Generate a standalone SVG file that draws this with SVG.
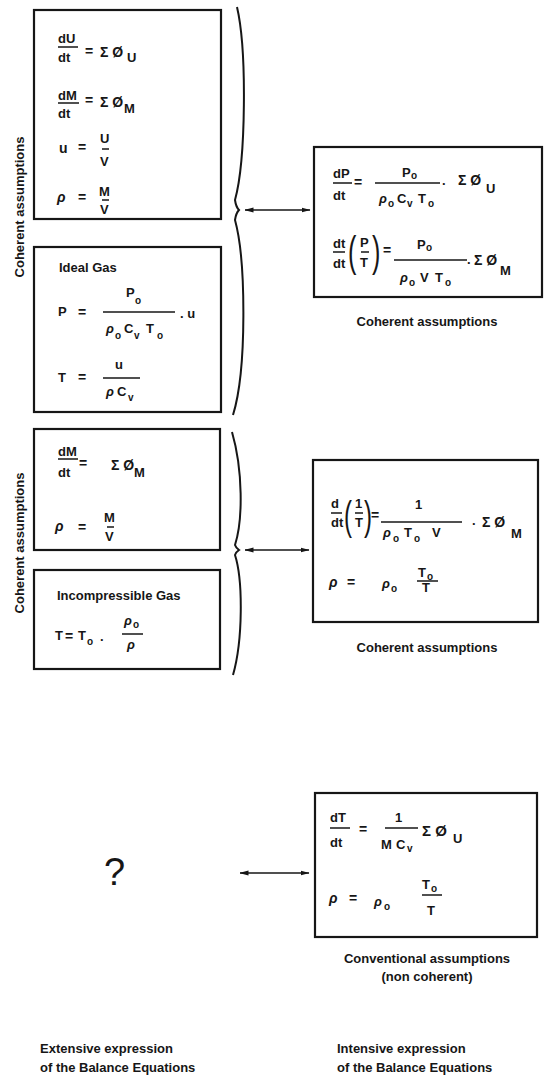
<svg xmlns="http://www.w3.org/2000/svg" width="545" height="1076" viewBox="0 0 545 1076">
<defs>
<style>
text{font-family:"Liberation Sans",Arial,Helvetica,sans-serif;font-weight:bold;fill:#161616}
.b{fill:#fff;stroke:#161616;stroke-width:2.2}
.m{font-size:13px}
.s{font-size:10px}
.g{font-size:14px}
.c{font-size:13px;text-anchor:middle}
.r{font-style:italic}
.pr{font-weight:normal}
.fb{stroke:#161616;stroke-width:1.5}
.con{fill:none;stroke:#161616;stroke-width:1.5}
.br{fill:none;stroke:#161616;stroke-width:2}
</style>
<marker id="ah" viewBox="0 0 9 6" refX="8.5" refY="3" markerWidth="9" markerHeight="6" markerUnits="userSpaceOnUse" orient="auto-start-reverse">
<path d="M0,0.5 L9,3 L0,5.5 z" fill="#161616"/>
</marker>
</defs>
<rect width="545" height="1076" fill="#fff"/>

<g id="label-left-1"><text class="m" transform="translate(24,207) rotate(-90)" text-anchor="middle">Coherent assumptions</text></g>
<g id="label-left-2"><text class="m" transform="translate(24,543) rotate(-90)" text-anchor="middle">Coherent assumptions</text></g>

<g id="box-balance">
<rect class="b" x="34" y="10" width="187" height="209"/>
<text class="m" x="58" y="43">dU</text><line class="fb" x1="58" y1="47" x2="78" y2="47"/><text class="m" x="58" y="62">dt</text>
<text class="g" x="85" y="56">=</text><text class="g" x="100" y="57">Σ Ø</text><text class="m" x="127" y="62">U</text>
<text class="m" x="58" y="100">dM</text><line class="fb" x1="58" y1="103" x2="79" y2="103"/><text class="m" x="58" y="118">dt</text>
<text class="g" x="85" y="105">=</text><text class="g" x="100" y="107">Σ Ø</text><text class="m" x="124" y="113">M</text>
<text class="g" x="59" y="153">u</text><text class="g" x="78" y="152">=</text>
<text class="m" x="100" y="143">U</text><line class="fb" x1="102" y1="149" x2="109" y2="149"/><text class="m" x="100" y="166">V</text>
<text class="g r" x="57" y="202">ρ</text><text class="g" x="78" y="202">=</text>
<text class="m" x="99" y="196">M</text><line class="fb" x1="102" y1="200" x2="109" y2="200"/><text class="m" x="100" y="214">V</text>
</g>

<g id="box-ideal-gas">
<rect class="b" x="34" y="247" width="187" height="165"/>
<text class="m" x="59" y="272">Ideal Gas</text>
<text class="m" x="58" y="316">P</text><text class="g" x="78" y="317">=</text>
<text class="m" x="126" y="297">P</text><text class="s" x="135" y="304">o</text>
<line class="fb" x1="103" y1="312" x2="175" y2="312"/>
<text class="m r" x="106" y="333">ρ</text><text class="s" x="115" y="339">o</text>
<text class="m" x="124" y="333">C</text><text class="s" x="134" y="339">v</text>
<text class="m" x="146" y="333">T</text><text class="s" x="157" y="339">o</text>
<text class="m" x="180" y="318">. u</text>
<text class="m" x="58" y="382">T</text><text class="g" x="78" y="382">=</text>
<text class="m" x="115" y="369">u</text><line class="fb" x1="103" y1="378" x2="140" y2="378"/>
<text class="m r" x="106" y="396">ρ</text><text class="m" x="117" y="396">C</text><text class="s" x="128" y="401">v</text>
</g>

<g id="box-mass">
<rect class="b" x="34" y="429" width="186" height="121"/>
<text class="m" x="58" y="456">dM</text><line class="fb" x1="58" y1="459" x2="78" y2="459"/><text class="m" x="58" y="477">dt</text>
<text class="g" x="79" y="468">=</text><text class="g" x="111" y="470">Σ Ø</text><text class="m" x="134" y="477">M</text>
<text class="g r" x="55" y="531">ρ</text><text class="g" x="78" y="532">=</text>
<text class="m" x="104" y="522">M</text><line class="fb" x1="107" y1="527" x2="114" y2="527"/><text class="m" x="105" y="541">V</text>
</g>

<g id="box-incompressible">
<rect class="b" x="34" y="570" width="186" height="99"/>
<text class="m" x="57" y="600">Incompressible Gas</text>
<text class="m" x="55" y="640">T</text><text class="g" x="65" y="641">=</text><text class="m" x="78" y="640">T</text><text class="s" x="87" y="645">o</text>
<text class="m" x="100" y="641">.</text>
<text class="m r" x="124" y="625">ρ</text><text class="s" x="133" y="628">o</text>
<line class="fb" x1="122" y1="634" x2="143" y2="634"/>
<text class="m r" x="127" y="649">ρ</text>
</g>

<g id="box-intensive-1">
<rect class="b" x="314" y="147" width="228" height="150"/>
<text class="m" x="333" y="178">dP</text><line class="fb" x1="333" y1="183" x2="352" y2="183"/><text class="m" x="333" y="200">dt</text>
<text class="g" x="354" y="187">=</text>
<text class="m" x="402" y="177">P</text><text class="s" x="411" y="179">o</text>
<line class="fb" x1="375" y1="183" x2="440" y2="183"/>
<text class="m r" x="379" y="203">ρ</text><text class="s" x="388" y="207">o</text>
<text class="m" x="397" y="203">C</text><text class="s" x="407" y="207">v</text>
<text class="m" x="418" y="203">T</text><text class="s" x="428" y="207">o</text>
<text class="m" x="442" y="185">.</text><text class="g" x="458" y="185">Σ Ø</text><text class="m" x="486" y="193">U</text>
<text class="m" x="333" y="248">dt</text><line class="fb" x1="333" y1="252" x2="345" y2="252"/><text class="m" x="333" y="268">dt</text>
<text class="pr" transform="translate(348,266) scale(0.6,1)" font-size="42">(</text>
<text class="m" x="360" y="247">P</text><line class="fb" x1="361" y1="252" x2="369" y2="252"/><text class="m" x="360" y="267">T</text>
<text class="pr" transform="translate(372,266) scale(0.6,1)" font-size="42">)</text>
<text class="g" x="383" y="255">=</text>
<text class="m" x="417" y="249">P</text><text class="s" x="426" y="251">o</text>
<line class="fb" x1="394" y1="260" x2="467" y2="260"/>
<text class="m r" x="400" y="282">ρ</text><text class="s" x="409" y="286">o</text>
<text class="m" x="420" y="282">V</text>
<text class="m" x="435" y="282">T</text><text class="s" x="445" y="286">o</text>
<text class="m" x="467" y="264">.</text><text class="g" x="474" y="265">Σ Ø</text><text class="m" x="500" y="275">M</text>
</g>

<g id="box-intensive-2">
<rect class="b" x="313" y="460" width="225" height="162"/>
<text class="m" x="331" y="508">d</text><line class="fb" x1="331" y1="513" x2="342" y2="513"/><text class="m" x="331" y="527">dt</text>
<text class="pr" transform="translate(344,530) scale(0.6,1)" font-size="40">(</text>
<text class="m" x="355" y="508">1</text><line class="fb" x1="355" y1="513" x2="363" y2="513"/><text class="m" x="355" y="527">T</text>
<text class="pr" transform="translate(364,530) scale(0.6,1)" font-size="40">)</text>
<text class="g" x="371" y="520">=</text>
<text class="m" x="415" y="509">1</text>
<line class="fb" x1="381" y1="522" x2="462" y2="522"/>
<text class="m r" x="383" y="537">ρ</text><text class="s" x="393" y="542">o</text>
<text class="m" x="404" y="537">T</text><text class="s" x="414" y="542">o</text>
<text class="m" x="432" y="537">V</text>
<text class="m" x="472" y="525">.</text><text class="g" x="482" y="527">Σ Ø</text><text class="m" x="511" y="538">M</text>
<text class="g r" x="329" y="587">ρ</text><text class="g" x="347" y="587">=</text>
<text class="m r" x="382" y="588">ρ</text><text class="s" x="391" y="592">o</text>
<text class="m" x="418" y="577">T</text><text class="s" x="427" y="580">o</text>
<line class="fb" x1="417" y1="581" x2="438" y2="581"/>
<text class="m" x="422" y="592">T</text>
</g>

<g id="box-conventional">
<rect class="b" x="315" y="793" width="222" height="144"/>
<text class="m" x="330" y="822">dT</text><line class="fb" x1="330" y1="828" x2="350" y2="828"/><text class="m" x="330" y="847">dt</text>
<text class="g" x="359" y="834">=</text>
<text class="m" x="395" y="822">1</text>
<line class="fb" x1="385" y1="828" x2="418" y2="828"/>
<text class="m" x="381" y="849">M</text><text class="m" x="396" y="849">C</text><text class="s" x="407" y="852">v</text>
<text class="g" x="422" y="836" style="font-size:15px">Σ Ø</text><text class="m" x="453" y="843">U</text>
<text class="g r" x="329" y="903">ρ</text><text class="g" x="349" y="903">=</text>
<text class="m r" x="374" y="906">ρ</text><text class="s" x="384" y="910">o</text>
<text class="m" x="422" y="889">T</text><text class="s" x="431" y="892">o</text>
<line class="fb" x1="422" y1="895" x2="442" y2="895"/>
<text class="m" x="427" y="915">T</text>
</g>

<g id="node-question"><text class="pr" x="104" y="885" font-size="38">?</text></g>

<g id="captions">
<text class="c" x="427" y="326">Coherent assumptions</text>
<text class="c" x="427" y="652">Coherent assumptions</text>
<text class="c" x="427" y="963">Conventional assumptions</text>
<text class="c" x="427" y="981">(non coherent)</text>
<text class="m" x="40" y="1053">Extensive expression</text>
<text class="m" x="40" y="1072">of the Balance Equations</text>
<text class="m" x="337" y="1053">Intensive expression</text>
<text class="m" x="337" y="1072">of the Balance Equations</text>
</g>

<g id="connectors">
<path class="br" d="M237,7 C247,50 246,160 235,200 Q236,207 239,210 Q236,213 235,220 C246,260 247,370 233,415"/>
<path class="br" d="M232,432 C243,470 243,520 235,545 Q236,548 239,550 Q236,552 235,555 C243,580 243,640 233,675"/>
<line class="con" x1="245" y1="210" x2="310" y2="210" marker-start="url(#ah)" marker-end="url(#ah)"/>
<line class="con" x1="245" y1="550" x2="309" y2="550" marker-start="url(#ah)" marker-end="url(#ah)"/>
<line class="con" x1="240" y1="873" x2="309" y2="873" marker-start="url(#ah)" marker-end="url(#ah)"/>
</g>
</svg>
